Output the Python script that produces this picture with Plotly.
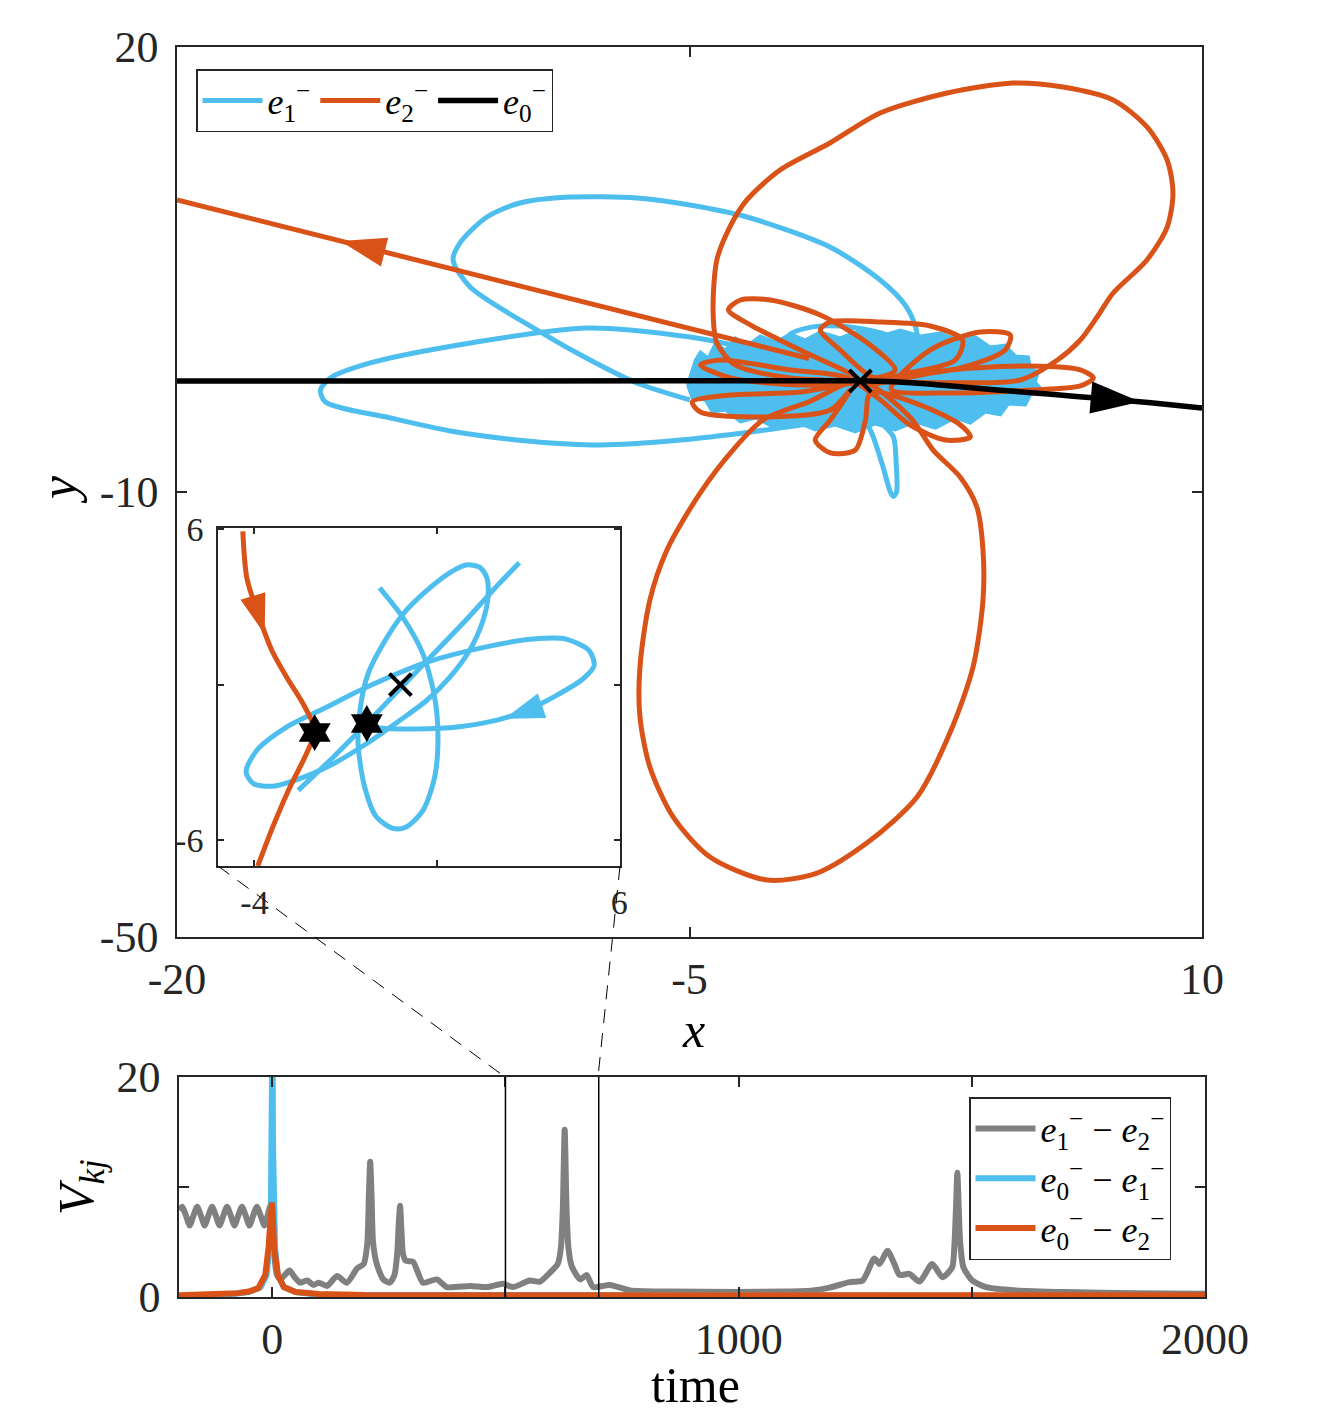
import plotly.graph_objects as go

W, H = 1324, 1418
BLUE = "#4DBEEE"
ORANGE = "#D95319"
GRAY = "#808080"
AX = "#262626"
FONT = "Liberation Serif"

# ---------------- main phase portrait (x, y) ----------------
e0_x = [-20, -10, 0, 1, 2, 3, 4, 5, 6, 7, 8, 9, 10]
e0_y = [-6.27, -6.27, -6.25, -6.33, -6.5, -6.75, -6.97, -7.19, -7.41, -7.63, -7.86, -8.12, -8.39]
e0_arrow_x = [7.0, 8.19]
e0_arrow_y = [-7.63, -7.91]
eq_x = [0]
eq_y = [-6.27]

# e1 (blue): dense tangle near the equilibrium
e1_blob_x = [-5.06, -4.83, -4.68, -4.45, -4.24, -3.95, -3.66, -3.28, -2.93, -2.49, -2.05, -1.61,
             -1.17, -0.59, 0.0, 0.59, 1.17, 1.76, 2.34, 2.87, 3.37, 3.80, 4.24, 4.54, 4.92, 4.98,
             5.21, 5.12, 5.27, 4.98, 4.83, 4.33, 4.10, 3.66, 3.22, 2.78, 2.20, 1.61, 1.02, 0.44,
             -0.15, -0.73, -1.32, -1.90, -2.49, -3.07, -3.51, -3.95, -4.33, -4.54, -4.92, -5.06]
e1_blob_y = [-6.58, -4.62, -3.99, -4.46, -3.28, -3.83, -2.88, -3.44, -2.73, -3.20, -2.57, -3.04,
             -2.41, -2.88, -2.26, -2.73, -2.26, -2.73, -2.49, -3.04, -2.80, -3.59, -3.44, -4.30,
             -4.38, -5.25, -5.56, -6.35, -6.82, -7.37, -8.16, -8.08, -8.94, -8.71, -9.57, -9.18,
             -9.97, -9.49, -10.12, -9.65, -10.28, -9.73, -10.12, -9.49, -9.97, -9.18, -9.49,
             -8.55, -8.71, -7.76, -7.61, -6.58]
e1_upper_x = [-4.99, -6.54, -7.91, -9.46, -11.42, -11.92, -11.72, -10.93, -9.96, -8.50,
              -6.54, -4.99, -3.32, -0.89, 0.58, 1.31, 1.60, 1.69]
e1_upper_y = [-7.76, -6.43, -4.62, -2.26, 1.12, 3.25, 4.58, 6.63, 7.73, 8.20, 8.12, 7.57,
              6.63, 4.27, 1.67, -0.29, -1.87, -3.05]
e1_lower_x = [-3.8, -4.98, -7.99, -11.41, -14.34, -15.51, -15.80, -15.66, -13.75, -12.00, -9.66,
              -7.61, -5.27, -3.22, -1.17]
e1_lower_y = [-3.4, -2.81, -2.10, -3.28, -4.85, -6.03, -6.98, -7.92, -9.18, -10.20, -11.00,
              -11.30, -10.91, -10.28, -9.49]
e1_spike_x = [0.2, 0.38, 0.65, 0.88, 0.97, 1.06, 1.05, 0.97, 0.7]
e1_spike_y = [-9.6, -10.68, -12.9, -15.0, -15.35, -15.0, -12.8, -10.68, -9.8]
e1_arc_x = [-2.25, -2.06, -1.47, -0.6, 0.3, 1.0]
e1_arc_y = [-3.6, -2.6, -2.05, -1.95, -2.3, -2.8]

# e2 (orange)
e2_loops_x = [0, -1.76, -3.22, -3.86, -3.51, -2.63, -1.17, 0.29, 1.02, 0.4,
              -0.59, -1.17, -0.88, 0.59, 2.05, 2.99, 2.78, 1.17, 0.2,
              2.63, 4.98, 6.44, 6.82, 6.44, 4.98, 2.63, 0.9,
              2.05, 3.51, 4.39, 4.24, 2.93, 0,
              -1.76, -3.80, -4.92, -4.68, -2.93, -0.88, -0.3,
              -0.88, -1.32, -0.88, -0.15, 0.15, 0.3,
              1.76, 2.93, 3.22, 2.49, 1.46, 0.59, -0.4,
              -2.05, -4.10, -4.68, -3.80, -1.76, 0]
e2_loops_y = [-6.27, -3.83, -1.86, -0.68, 0.10, 0.10, -1.08, -3.44, -5.40, -6.0,
              -3.83, -2.26, -1.63, -1.63, -1.94, -3.04, -4.62, -5.80, -6.6,
              -5.40, -5.09, -5.40, -6.03, -6.66, -6.98, -7.21, -6.9,
              -3.83, -2.41, -2.65, -3.83, -5.25, -6.27,
              -7.14, -7.37, -7.92, -8.71, -9.10, -8.55, -7.0,
              -9.34, -10.91, -11.93, -11.70, -9.34, -7.2,
              -8.16, -9.73, -10.68, -10.91, -9.73, -7.76, -6.0,
              -5.40, -4.62, -5.01, -6.03, -6.58, -6.27]
e2_bottom_x = [0, -1.5, -2.85, -3.73, -4.69, -5.66, -6.16, -6.45, -6.45, -6.16, -5.48, -4.40, -2.73,
               -1.27, 0.19, 1.66, 2.62, 3.30, 3.59, 3.59, 3.41, 2.92, 2.13, 1.45, 0]
e2_bottom_y = [-6.27, -7.9, -9.34, -11.70, -15.08, -19.56, -23.50, -28.76, -32.70, -36.63, -40.56,
               -43.71, -45.52, -44.97, -42.61, -38.99, -33.96, -28.76, -23.50, -19.56, -16.18,
               -13.82, -11.70, -9.10, -6.27]
e2_top_x = [0, 2.5, 4.68, 5.77, 6.44, 6.93, 7.40, 8.39, 8.98, 9.15, 8.98, 8.39, 7.40, 5.93, 4.47,
            2.54, 0.58, -0.89, -2.35, -3.32, -3.82, -4.20, -4.31, -4.20, -3.66, -2.05, 0]
e2_top_y = [-6.27, -6.4, -6.19, -4.62, -3.05, -1.24, 0.65, 3.25, 5.84, 8.52, 11.11, 13.71, 15.83,
            16.85, 17.17, 16.38, 14.81, 12.45, 10.33, 7.97, 5.84, 3.25, -0.69, -3.28, -5.01,
            -6.03, -6.27]
e2_exit_x = [-1.5, -20]
e2_exit_y = [-4.5, 7.97]
e2_arrow_x = [-13.0, -15.22]
e2_arrow_y = [3.25, 4.74]

# ---------------- inset (zoom near equilibrium) ----------------
in_e2_x = [-4.32, -4.21, -3.93, -3.52, -3.11, -2.67, -2.35, -2.57, -3.03, -3.50, -3.91]
in_e2_y = [5.92, 4.12, 2.85, 1.31, 0.27, -0.73, -1.77, -2.65, -3.96, -5.50, -7.0]
in_e2_arrow_x = [-3.95, -3.72]
in_e2_arrow_y = [3.0, 1.95]
in_e1_x = [-0.57, 0.07, 0.62, 0.94, 1.03, 0.94, 0.62, 0.16, -0.20, -0.66, -0.98, -1.16, -1.11,
           -0.89, -0.48, 0.07, 0.71, 1.35, 1.80, 2.17, 2.37, 2.40, 2.26, 1.89, 1.35, 0.71, -0.02,
           -0.93, -1.84, -2.76, -3.49, -4.03, -4.23, -3.94, -3.12, -2.03, -0.93, 0.71, 2.35,
           3.63, 4.54, 5.18, 5.31, 5.0, 4.27, 3.45, 2.62, 1.62, 0.44, -0.57, -0.93]
in_e1_y = [3.74, 2.59, 1.18, -0.49, -2.03, -3.56, -4.85, -5.49, -5.55, -5.10, -3.95, -2.28, -1.0,
           0.41, 1.56, 2.72, 3.62, 4.32, 4.62, 4.54, 4.13, 3.36, 2.46, 1.31, 0.28, -0.62, -1.38,
           -2.28, -3.05, -3.63, -3.92, -3.82, -3.37, -2.54, -1.64, -0.87, -0.10, 0.86, 1.46,
           1.76, 1.76, 1.31, 0.73, 0.22, -0.42, -1.0, -1.38, -1.62, -1.71, -1.67, -1.58]
in_e1_diag_x = [-2.80, -1.84, -0.93, -0.02, 0.89, 1.80, 2.71, 3.26]
in_e1_diag_y = [-4.08, -2.80, -1.51, -0.17, 1.15, 2.50, 3.91, 4.71]
in_e1_arrow_x = [3.6, 2.85]
in_e1_arrow_y = [-0.95, -1.32]
in_star_x = [-2.35, -0.92]
in_star_y = [-1.85, -1.5]
in_eq_x = [0]
in_eq_y = [0]

# ---------------- bottom: V_kj vs time ----------------
g_t = [-200, -193, -185, -177, -169, -161, -153, -145, -137, -129, -121, -113, -105, -97, -89, -81,
       -73, -65, -57, -49, -41, -33, -25, -17, -10, -4, 0, 4, 10, 17, 27, 37, 48, 60, 75, 88, 100,
       117, 139, 160, 182, 196, 204, 207, 210, 213, 216, 224, 238, 252, 262, 268, 271, 274, 277,
       280, 286, 302, 323, 353, 374, 424, 460, 495, 516, 552, 574, 595, 612, 619, 623, 627, 631,
       635, 642, 660, 674, 688, 724, 767, 850, 1000, 1100, 1159, 1195, 1238, 1266, 1291, 1302,
       1319, 1334, 1345, 1366, 1388, 1415, 1437, 1458, 1463, 1466, 1469, 1472, 1475, 1482, 1501,
       1531, 1595, 1702, 1850, 2000]
g_v = [7.9, 8.2, 7.4, 6.5, 7.4, 8.2, 7.4, 6.5, 7.4, 8.2, 7.4, 6.5, 7.4, 8.2, 7.4, 6.5,
       7.4, 8.2, 7.4, 6.5, 7.4, 8.2, 7.4, 6.5, 7.4, 8.3, 8.0, 4.0, 2.0, 1.6, 2.0, 2.4, 1.8, 1.3, 1.5,
       1.1, 1.3, 1.0, 1.9, 1.3, 2.6, 3.0, 5.0, 9.0, 12.3, 9.0, 5.0, 3.0, 1.6, 1.3, 2.0, 4.0, 6.5,
       8.3, 6.0, 4.0, 3.3, 3.2, 1.3, 1.6, 0.9, 1.0, 0.9, 1.2, 0.9, 1.5, 1.4, 2.2, 3.0, 4.5, 8.0,
       15.2, 8.0, 4.5, 2.8, 1.6, 2.0, 0.9, 1.1, 0.6, 0.5, 0.45, 0.5, 0.6, 0.85, 1.35, 1.5, 3.5, 3.0,
       4.2, 3.0, 2.0, 2.1, 1.4, 3.0, 1.8, 2.7, 5.0, 8.0, 11.3, 8.0, 5.0, 2.7, 1.5, 0.9, 0.6, 0.45,
       0.35, 0.3]
b_t = [-200, -100, -50, -25, -12, -6, -3, -1.5, -0.5, 0.5, 1.5, 3, 6, 12, 25, 50, 100, 2000]
b_v = [0.1, 0.2, 0.45, 0.9, 2.0, 4.5, 8.0, 14, 25, 25, 14, 8.0, 4.5, 2.0, 0.9, 0.45, 0.2, 0.1]
o_t = [-200, -150, -100, -75, -50, -30, -15, -8, -3, -1, 1, 4, 12, 25, 50, 100, 200, 500, 1000, 2000]
o_v = [0.15, 0.2, 0.28, 0.35, 0.5, 0.8, 2.0, 4.5, 7.5, 8.6, 7.5, 4.5, 2.0, 0.9, 0.45, 0.28, 0.18,
       0.15, 0.15, 0.15]
window_t = [500, 700]

fig = go.Figure()

def line(x, y, color, width, xa="x", ya="y", name=None, show=False, legend="legend", shape="spline",
         smooth=0.8, **kw):
    fig.add_trace(go.Scatter(x=x, y=y, mode="lines", xaxis=xa, yaxis=ya, name=name,
                             showlegend=show, legend=legend, hoverinfo="skip",
                             line=dict(color=color, width=width, shape=shape,
                                       smoothing=smooth if shape == "spline" else None), **kw))

def arrow(x, y, color, size, xa="x", ya="y"):
    fig.add_trace(go.Scatter(x=x, y=y, mode="markers", xaxis=xa, yaxis=ya, showlegend=False,
                             hoverinfo="skip",
                             marker=dict(symbol="arrow", angleref="previous", size=[0, size],
                                         color=color, opacity=1, line=dict(width=0))))

E1 = "<i>e</i><sub>1</sub><sup>\u2212</sup>"
E2 = "<i>e</i><sub>2</sub><sup>\u2212</sup>"
E0 = "<i>e</i><sub>0</sub><sup>\u2212</sup>"

LW = 5
# main: blue
line(e1_upper_x, e1_upper_y, BLUE, LW, name=E1, show=True)
line(e1_lower_x, e1_lower_y, BLUE, LW)
line(e1_spike_x, e1_spike_y, BLUE, LW)
line(e1_arc_x, e1_arc_y, BLUE, LW)
line(e1_blob_x, e1_blob_y, BLUE, 3, shape="linear", fill="toself", fillcolor=BLUE)
# main: orange
line(e2_exit_x, e2_exit_y, ORANGE, LW, name=E2, show=True, shape="linear")
line(e2_top_x, e2_top_y, ORANGE, LW)
line(e2_bottom_x, e2_bottom_y, ORANGE, LW)
line(e2_loops_x, e2_loops_y, ORANGE, LW)
arrow(e2_arrow_x, e2_arrow_y, ORANGE, 48)
# main: black
line(e0_x, e0_y, "black", 5.5, name=E0, show=True)
arrow(e0_arrow_x, e0_arrow_y, "black", 52)
fig.add_trace(go.Scatter(x=eq_x, y=eq_y, mode="markers", showlegend=False, hoverinfo="skip",
                         marker=dict(symbol="x-thin", size=22, color="black",
                                     line=dict(width=4, color="black"))))

# inset
line(in_e1_x, in_e1_y, BLUE, LW, xa="x2", ya="y2")
line(in_e1_diag_x, in_e1_diag_y, BLUE, LW, xa="x2", ya="y2", shape="linear")
line(in_e2_x, in_e2_y, ORANGE, LW, xa="x2", ya="y2")
arrow(in_e2_arrow_x, in_e2_arrow_y, ORANGE, 42, "x2", "y2")
arrow(in_e1_arrow_x, in_e1_arrow_y, BLUE, 42, "x2", "y2")
fig.add_trace(go.Scatter(x=in_star_x, y=in_star_y, mode="markers", xaxis="x2", yaxis="y2",
                         showlegend=False, hoverinfo="skip",
                         marker=dict(symbol="hexagram", size=28, color="black",
                                     line=dict(width=0))))
fig.add_trace(go.Scatter(x=in_eq_x, y=in_eq_y, mode="markers", xaxis="x2", yaxis="y2",
                         showlegend=False, hoverinfo="skip",
                         marker=dict(symbol="x-thin", size=22, color="black",
                                     line=dict(width=4, color="black"))))

# bottom panel
L2 = "legend2"
line(g_t, g_v, GRAY, 6, xa="x3", ya="y3", name=E1 + " \u2212 " + E2, show=True, legend=L2,
     shape="spline", smooth=0.6)
line(b_t, b_v, BLUE, 6, xa="x3", ya="y3", name=E0 + " \u2212 " + E1, show=True, legend=L2,
     shape="linear")
line(o_t, o_v, ORANGE, 6, xa="x3", ya="y3", name=E0 + " \u2212 " + E2, show=True, legend=L2,
     shape="linear")

def px(v):
    return v / W

def py(v):
    return 1 - v / H

tickfont = dict(family=FONT, size=44, color=AX)
axcommon = dict(showline=True, linecolor=AX, linewidth=1.5, mirror="ticks", ticks="inside",
                tickcolor=AX, tickwidth=1.5, ticklen=10, showgrid=False, zeroline=False,
                automargin=False)

fig.update_layout(
    width=W, height=H, template="none", paper_bgcolor="white", plot_bgcolor="white",
    margin=dict(l=0, r=0, t=0, b=0),
    xaxis=dict(domain=[px(177), px(1202)], range=[-20, 10], anchor="y",
               tickvals=[-20, -5, 10], ticktext=["-20", "-5", "10"], tickfont=tickfont,
               ticklabelstandoff=2, **axcommon),
    yaxis=dict(domain=[py(937), py(47)], range=[-50, 20], anchor="x",
               tickvals=[-50, -15, 20], ticktext=["-50", "-10", "20"], tickfont=tickfont,
               ticklabelstandoff=8, **axcommon),
    xaxis2=dict(domain=[px(218), px(620)], range=[-5, 6.02], anchor="y2",
                tickvals=[-4, 1, 6], ticktext=["-4", "", "6"],
                tickfont=dict(family=FONT, size=34, color=AX), ticklabelstandoff=5,
                **{**axcommon, "ticklen": 6}),
    yaxis2=dict(domain=[py(866), py(528)], range=[-7, 6.05], anchor="x2",
                tickvals=[-6, 0, 6], ticktext=["-6", "", "6"],
                tickfont=dict(family=FONT, size=34, color=AX), ticklabelstandoff=6,
                **{**axcommon, "ticklen": 6}),
    xaxis3=dict(domain=[px(179), px(1205)], range=[-200, 2000], anchor="y3",
                tickvals=[0, 500, 1000, 1500, 2000], ticktext=["0", "", "1000", "", "2000"],
                tickfont=tickfont, ticklabelstandoff=2, **axcommon),
    yaxis3=dict(domain=[py(1297), py(1077)], range=[0, 20], anchor="x3",
                tickvals=[0, 10, 20], ticktext=["0", "", "20"], tickfont=tickfont,
                ticklabelstandoff=8, **axcommon),
    legend=dict(x=px(196), y=py(69), xanchor="left", yanchor="top", orientation="h",
                bgcolor="white", bordercolor=AX, borderwidth=1.5, itemwidth=60,
                font=dict(family=FONT, size=36, color="black"), traceorder="normal"),
    legend2=dict(x=px(969), y=py(1097), xanchor="left", yanchor="top", orientation="v",
                 bgcolor="white", bordercolor=AX, borderwidth=1.5, itemwidth=60,
                 font=dict(family=FONT, size=36, color="black"), traceorder="normal"),
    showlegend=True,
)

# window markers on the time axis and zoom connectors
for t in window_t:
    fig.add_shape(type="line", xref="x3", yref="y3 domain", x0=t, x1=t, y0=0, y1=1,
                  line=dict(color="black", width=1.5))
fig.add_shape(type="line", xref="paper", yref="paper", x0=px(218), y0=py(866), x1=px(505),
              y1=py(1077), line=dict(color="black", width=1, dash="14px,10px"))
fig.add_shape(type="line", xref="paper", yref="paper", x0=px(620), y0=py(866), x1=px(598),
              y1=py(1077), line=dict(color="black", width=1, dash="14px,10px"))

# axis titles
ann = [
    ("<i>x</i>", 693, 1030, 0, 50),
    ("<i>y</i>", 58, 490, -90, 52),
    ("time", 696, 1385, 0, 50),
    ("<i>V</i><sub><i>kj</i></sub>", 80, 1187, -90, 50),
]
for txt, ax_, ay_, ang, fs in ann:
    fig.add_annotation(text=txt, x=px(ax_), y=py(ay_), xref="paper", yref="paper",
                       showarrow=False, textangle=ang, xanchor="center", yanchor="middle",
                       font=dict(family=FONT, size=fs, color="black"))

fig.write_html("out.html")
